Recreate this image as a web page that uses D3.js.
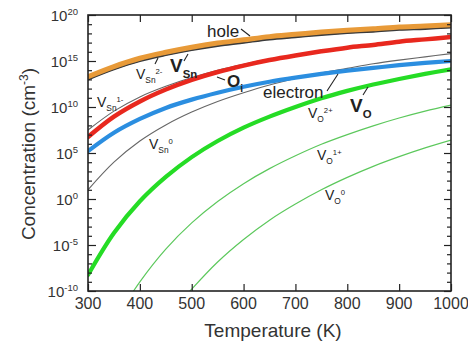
<!DOCTYPE html>
<html>
<head>
<meta charset="utf-8">
<script src="https://cdn.jsdelivr.net/npm/d3@7"></script>
<style>
  html, body { margin: 0; padding: 0; background: #fff; }
  svg { display: block; font-family: "Liberation Sans", Arial, sans-serif; }
</style>
</head>
<body>
<svg id="chart" width="468" height="346"></svg>
<script>
// Temperature grid (K) and log10 concentrations (cm^-3)
const temps   = [300, 350, 400, 450, 500, 550, 600, 650, 700, 750, 800, 850, 900, 950, 1000];
const hole     = [13.3, 14.4, 15.3, 15.95, 16.5, 16.95, 17.3, 17.65, 17.9, 18.15, 18.35, 18.5, 18.7, 18.8, 18.95];
const vSn      = [13.0, 14.1, 15.0, 15.65, 16.2, 16.65, 17.0, 17.35, 17.6, 17.85, 18.05, 18.2, 18.4, 18.5, 18.65];
const vSn2m    = [13.0, 14.1, 15.0, 15.65, 16.2, 16.65, 17.0, 17.35, 17.6, 17.85, 18.05, 18.2, 18.4, 18.5, 18.65];
const vSn1m    = [7.5, 9.55, 11.1, 12.25, 13.2, 14.0, 14.65, 15.2, 15.65, 16.1, 16.45, 16.75, 17.05, 17.3, 17.5];
const vSn0     = [1.0, 4.0, 6.3, 8.05, 9.45, 10.6, 11.55, 12.4, 13.1, 13.7, 14.2, 14.7, 15.1, 15.45, 15.8];
const oI       = [6.74, 8.95, 10.6, 11.9, 12.95, 13.8, 14.5, 15.1, 15.6, 16.05, 16.45, 16.75, 17.1, 17.35, 17.6];
const electron = [5.2, 7.2, 8.7, 9.9, 10.8, 11.55, 12.2, 12.75, 13.2, 13.6, 13.95, 14.25, 14.55, 14.8, 15.0];
const vO       = [-8.26, -3.7, -0.25, 2.4, 4.55, 6.3, 7.75, 8.95, 10.0, 10.95, 11.75, 12.45, 13.05, 13.6, 14.1];
const vO2p     = [-8.26, -3.7, -0.25, 2.4, 4.55, 6.3, 7.75, 8.95, 10.0, 10.95, 11.75, 12.45, 13.05, 13.6, 14.1];
const tempsO1  = [380, 400, 450, 500, 550, 600, 650, 700, 750, 800, 850, 900, 950, 1000];
const vO1p     = [-10.7, -9.0, -5.45, -2.6, -0.27, 1.67, 3.3, 4.7, 5.95, 7.0, 7.95, 8.8, 9.55, 10.2];
const tempsO0  = [490, 500, 550, 600, 650, 700, 750, 800, 850, 900, 950, 1000];
const vO0      = [-10.45, -9.8, -6.85, -4.4, -2.3, -0.55, 1.0, 2.35, 3.55, 4.6, 5.55, 6.4];

// Axis ticks
const xTicks = [300, 400, 500, 600, 700, 800, 900, 1000];
const yMajorExp = [-10, -5, 0, 5, 10, 15, 20];
const yMinorExp = d3.range(-10, 21).filter(e => e % 5 !== 0);

const svg = d3.select("#chart");
const L = 88, R = 451, T = 15, B = 291;

const x = d3.scaleLinear().domain([300, 1000]).range([L, R]);
const y = d3.scaleLog().domain([1e-10, 1e20]).range([B, T]);

svg.append("defs").append("clipPath").attr("id", "plotClip")
  .append("rect").attr("x", L).attr("y", T).attr("width", R - L).attr("height", B - T);

const line = d3.line()
  .x(d => x(d[0]))
  .y(d => y(Math.pow(10, d[1])))
  .curve(d3.curveCatmullRom.alpha(0.5));

const plot = svg.append("g").attr("clip-path", "url(#plotClip)");

function draw(ts, vals, color, width) {
  plot.append("path")
    .datum(ts.map((t, i) => [t, vals[i]]))
    .attr("d", line)
    .attr("fill", "none")
    .attr("stroke", color)
    .attr("stroke-width", width)
    .attr("stroke-linecap", "round");
}

// thin charge-state curves
draw(tempsO0, vO0, "#5cc85c", 1.2);
draw(tempsO1, vO1p, "#5cc85c", 1.2);
draw(temps, vO2p, "#5cc85c", 1.2);
draw(temps, vSn0, "#666", 1.1);
draw(temps, vSn1m, "#666", 1.1);
draw(temps, vSn2m, "#666", 1.1);
// totals and carriers
draw(temps, vO, "#25dc25", 4.2);
draw(temps, electron, "#2b8ee0", 4.2);
draw(temps, oI, "#e8281e", 4.5);
draw(temps, vSn, "#3a3a3a", 2.2);
draw(temps, hole, "#e89a38", 5);

// Axes: ticks point inward on all four sides
function styleAxis(g) {
  g.select(".domain").remove();
  g.selectAll(".tick line").attr("stroke", "#222").attr("stroke-width", 1.2);
  g.selectAll(".tick text").remove();
}
svg.append("g").attr("transform", `translate(0,${B})`)
  .call(d3.axisBottom(x).tickValues(xTicks).tickSizeInner(-7).tickSizeOuter(0)).call(styleAxis);
svg.append("g").attr("transform", `translate(0,${T})`)
  .call(d3.axisTop(x).tickValues(xTicks).tickSizeInner(-7).tickSizeOuter(0)).call(styleAxis);
const yMaj = yMajorExp.map(e => Math.pow(10, e));
const yMin = yMinorExp.map(e => Math.pow(10, e));
svg.append("g").attr("transform", `translate(${L},0)`)
  .call(d3.axisLeft(y).tickValues(yMaj).tickSizeInner(-8).tickSizeOuter(0)).call(styleAxis);
svg.append("g").attr("transform", `translate(${L},0)`)
  .call(d3.axisLeft(y).tickValues(yMin).tickSizeInner(-4).tickSizeOuter(0)).call(styleAxis);
svg.append("g").attr("transform", `translate(${R},0)`)
  .call(d3.axisRight(y).tickValues(yMaj).tickSizeInner(-7).tickSizeOuter(0)).call(styleAxis);
svg.append("g").attr("transform", `translate(${R},0)`)
  .call(d3.axisRight(y).tickValues(yMin).tickSizeInner(-4).tickSizeOuter(0)).call(styleAxis);

svg.append("rect").attr("x", L).attr("y", T).attr("width", R - L).attr("height", B - T)
  .attr("fill", "none").attr("stroke", "#222").attr("stroke-width", 1.6);

// Tick labels
svg.append("g").selectAll("text").data(xTicks).join("text")
  .attr("x", d => x(d)).attr("y", 309)
  .attr("text-anchor", "middle").attr("font-size", 16).attr("fill", "#333")
  .text(d => d);

const yl = svg.append("g").selectAll("text").data(yMajorExp).join("text")
  .attr("x", 78).attr("y", d => y(Math.pow(10, d)) + 5.5)
  .attr("text-anchor", "end").attr("font-size", 15).attr("fill", "#333");
yl.append("tspan").text("10");
yl.append("tspan").attr("font-size", 9.5).attr("dy", -6).text(d => d);

// Axis titles
svg.append("text").attr("x", 273).attr("y", 337).attr("text-anchor", "middle")
  .attr("font-size", 19).attr("fill", "#333").text("Temperature (K)");
const yt = svg.append("text").attr("transform", "translate(35,154) rotate(-90)")
  .attr("text-anchor", "middle").attr("font-size", 19).attr("fill", "#333");
yt.append("tspan").text("Concentration (cm");
yt.append("tspan").attr("font-size", 12).attr("dy", -7).text("-3");
yt.append("tspan").attr("dy", 7).text(")");

// Curve labels
function label(px, py, main, sub, sup, size, bold) {
  const t = svg.append("text").attr("x", px).attr("y", py)
    .attr("font-size", size).attr("fill", "#222")
    .attr("font-weight", bold ? "bold" : "normal");
  t.append("tspan").text(main);
  let shift = 0;
  if (sub) {
    t.append("tspan").attr("font-size", size * 0.6).attr("dy", size * 0.3).text(sub);
    shift = size * 0.3;
  }
  if (sup) {
    t.append("tspan").attr("font-size", size * 0.55).attr("dy", -shift - size * 0.35).text(sup);
  }
}
function pointer(x1, y1, x2, y2) {
  svg.append("line").attr("x1", x1).attr("y1", y1).attr("x2", x2).attr("y2", y2)
    .attr("stroke", "#222").attr("stroke-width", 1.1);
}

label(207, 37, "hole", null, null, 17, false);
pointer(241, 29, 250, 36);
label(136, 79, "V", "Sn", "2-", 14, false);
pointer(155, 64, 158, 58);
label(170, 72, "V", "Sn", null, 19, true);
pointer(184, 61, 188, 54);
label(227, 87, "O", "i", null, 17, true);
pointer(217, 77, 225, 80);
label(263, 98, "electron", null, null, 17, false);
pointer(327, 91, 338, 74);
label(350, 112, "V", "O", null, 19, true);
pointer(363, 95, 368, 87);
label(97, 107, "V", "Sn", "1-", 14, false);
label(149, 149, "V", "Sn", "0", 14, false);
label(308, 118, "V", "O", "2+", 14, false);
label(317, 160, "V", "O", "1+", 14, false);
label(325, 200, "V", "O", "0", 14, false);
</script>
</body>
</html>
